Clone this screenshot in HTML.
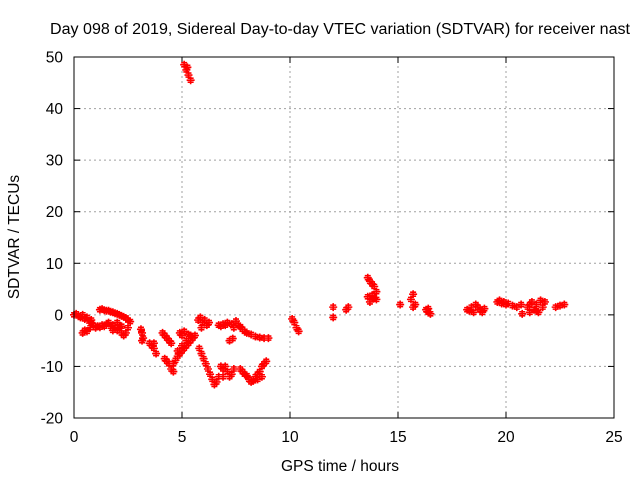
<!DOCTYPE html>
<html><head><meta charset="utf-8"><style>
body{margin:0;background:#fff}
svg text{font-family:"Liberation Sans",sans-serif;font-size:15.5px;fill:#000}
</style></head><body>
<svg width="640" height="480" id="c">
<text x="340" y="34" text-anchor="middle" textLength="580" lengthAdjust="spacingAndGlyphs">Day 098 of 2019, Sidereal Day-to-day VTEC variation (SDTVAR) for receiver nast</text>
<text x="340" y="471" text-anchor="middle">GPS time / hours</text>
<text transform="translate(19,237) rotate(-90)" text-anchor="middle">SDTVAR / TECUs</text>
<g id="grid"></g>
<g id="ticks"></g>
<g id="pts"></g>
<rect x="74" y="57" width="540" height="361" fill="none" stroke="#000" stroke-width="1"/>
</svg>
<script>
const xTicks=[0,5,10,15,20,25];
const yTicks=[-20,-10,0,10,20,30,40,50];
const hours=[0,0.1,0.2,0.3,0.4,0.5,0.6,0.7,0.8, 0.4,0.5,0.6,0.75,
1.2,1.3,1.4,1.5,1.6,1.7,1.8,1.9,2.0,2.1,2.2,2.3,2.4,2.5,2.6,
0.8,0.9,1.0,1.1,1.2,1.3,1.4,1.5,1.6,1.7,1.8,1.9,2.0,2.1,2.2,2.3,2.4,2.5,2.0,1.8,2.2,
3.1,3.15,3.2,3.15, 3.5,3.6,3.7,3.8,3.7, 4.1,4.2,4.3,4.4,4.5, 4.2,4.3,4.4,4.5,4.6,
4.6,4.7,4.8,4.9,5.0,5.1,5.2,5.3,5.4,5.5,5.6,4.8,5.0,5.2,5.4,5.0,4.9,5.1,5.3,
5.75,5.85,5.95,6.05,6.15,6.25,5.9,
5.8,5.9,6.0,6.1,6.2,6.3,6.4,6.5,6.6,6.7,
6.8,6.9,7.0,7.1,7.2,7.3,7.4,6.9,
6.7,6.8,6.9,7.0,7.1,7.3,7.4,7.5,7.6,7.7,7.8,7.9,8.0,8.2,8.4,8.6,8.8,9.0,
7.2,7.35,
7.7,7.8,7.9,8.0,8.1,8.2,8.3,8.4,8.5,8.6,8.7,8.8,8.9,8.5,8.7,
10.1,10.2,10.3,10.4,
5.1,5.2,5.3,5.4,5.25,
12.0,12.0,12.6,12.7,13.6,13.7,13.8,13.9,14.0,13.6,13.7,13.8,13.9,14.0,15.1,15.6,15.7,15.8,15.7,16.3,16.4,16.5,16.4,
18.2,18.3,18.4,18.5,18.6,18.7,18.8,18.9,19.0,19.6,19.7,19.8,19.9,20.0,20.1,20.3,20.5,20.7,20.75,
21.0,21.1,21.2,21.3,21.4,21.5,21.6,21.7,21.8,21.1,21.4,22.3,22.5,22.7];
const sdtvar=[0,0.2,-0.2,-0.5,0,-0.8,-0.5,-1.2,-1, -3.5,-3,-3.2,-2.5,
1,1.1,0.9,0.8,0.8,0.6,0.5,0.3,0.2,0,-0.2,-0.4,-0.6,-1,-1.3,
-1.5,-2,-2.5,-2.2,-2.4,-2,-2.2,-1.8,-1.5,-2.2,-2,-2.5,-3,-2.5,-3.5,-4,-3.5,-2.5,-1.5,-3,-2.2,
-2.8,-3.5,-4.5,-5, -5.5,-6,-6.5,-7.5,-5.5, -3.5,-4,-4.5,-5,-5.5, -8.5,-9,-9.5,-10.5,-11,
-9.5,-8.8,-8,-7.5,-7,-6.5,-6,-5.5,-5,-4.5,-4,-7,-6,-5,-4,-4,-3.5,-3.2,-3.8,
-1,-0.5,-1.5,-1,-2,-1.5,-2.5,
-6.5,-7.5,-8.5,-9.5,-10.5,-11.5,-12.5,-13.5,-13,-12,
-10,-10.5,-10,-11,-12,-11.5,-10.5,-12,
-2,-2.2,-1.8,-2,-1.5,-1.8,-2.5,-1.2,-2,-2.3,-2.8,-3.2,-3.5,-3.8,-4.2,-4.4,-4.5,-4.5,
-5,-4.6,
-10.5,-11,-11.5,-11.8,-12.5,-13,-12.8,-12,-11.5,-11,-10,-9.5,-9,-12.5,-12,
-0.8,-1.5,-2.5,-3.2,
48.5,47.5,46.5,45.5,48,
1.5,-0.5,1,1.5,7.2,6.5,6,5.5,4.5,3.5,2.5,3.8,3.2,3,2,3,4,2,1.5,1,0.5,0.2,1.2,
1,0.8,1.5,0.5,2,1.5,1,0.5,1.2,2.5,2.8,2.2,2.5,2,2.2,1.8,1.5,2,0.2,
1.5,0.5,2.5,1,2,0.5,2.8,1.5,2.5,2,0.8,1.5,1.8,2];
const NS='http://www.w3.org/2000/svg';
const X0=74,X1=614,Y0=418,Y1=57;
function sx(h){return X0+(h-0)/(25-0)*(X1-X0);}
function sy(v){return Y0-(v+20)/(70)*(Y0-Y1);}
function mk(tag,at,parent){const e=document.createElementNS(NS,tag);for(const k in at)e.setAttribute(k,at[k]);parent.appendChild(e);return e;}
const grid=document.getElementById('grid'),ticks=document.getElementById('ticks'),pts=document.getElementById('pts');
xTicks.forEach(t=>{const x=sx(t);
 if(t>0&&t<25){const g=mk('line',{x1:x,x2:x,y1:Y0,y2:Y1,stroke:'#a0a0a0','stroke-dasharray':'2,3'},grid);
 
 }
 mk('line',{x1:x,x2:x,y1:Y0,y2:Y0-6,stroke:'#000'},ticks);
 mk('line',{x1:x,x2:x,y1:Y1,y2:Y1+6,stroke:'#000'},ticks);
 const tx=mk('text',{x:x,y:Y0+24,'text-anchor':'middle'},ticks);tx.textContent=t;
 
 
});
yTicks.forEach(t=>{const y=sy(t);
 if(t>-20&&t<50){const g=mk('line',{x1:X0,x2:X1,y1:y,y2:y,stroke:'#a0a0a0','stroke-dasharray':'2,3'},grid);
 
 }
 mk('line',{x1:X0,x2:X0+6,y1:y,y2:y,stroke:'#000'},ticks);
 mk('line',{x1:X1,x2:X1-6,y1:y,y2:y,stroke:'#000'},ticks);
 const tx=mk('text',{x:X0-11,y:y+5.5,'text-anchor':'end'},ticks);tx.textContent=t;
 
 
});
let d='';
hours.forEach((h,i)=>{const x=sx(h),y=sy(sdtvar[i]);
 d+=`M${x-4},${y}h8M${x},${y-4}v8`;
 d+=`M${x-3},${y+2}h6M${x-3},${y-2}h6`;});
const p=mk('path',{d:d,stroke:'#ff0000','stroke-width':'1.6',fill:'none'},pts);


</script>
</body></html>
